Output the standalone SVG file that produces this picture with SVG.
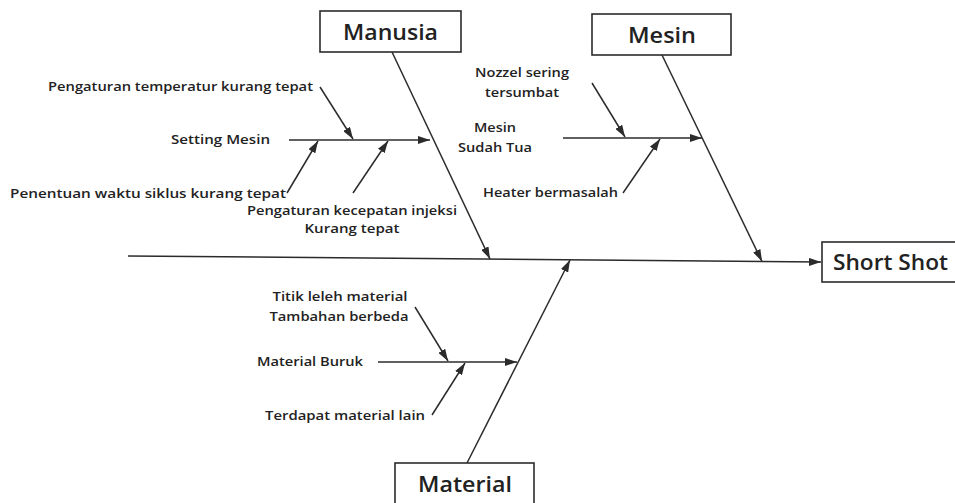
<svg xmlns="http://www.w3.org/2000/svg" width="955" height="503" viewBox="0 0 955 503">
<defs>
<marker id="ah" viewBox="0 0 12 8" refX="12" refY="4" markerWidth="12" markerHeight="8" markerUnits="userSpaceOnUse" orient="auto">
<path d="M0,0 L12,4 L0,8 Z" fill="#2b2b2b"/>
</marker>
<style>
.box{fill:#fff;stroke:#2b2b2b;stroke-width:1.6}
.ln{stroke:#2b2b2b;stroke-width:1.5;fill:none}
.ar{stroke:#2b2b2b;stroke-width:1.5;fill:none;marker-end:url(#ah)}
.big{font-family:"Open Sans","Liberation Sans",sans-serif;font-size:21px;font-weight:600;fill:#222}
.sm{font-family:"Open Sans","Liberation Sans",sans-serif;font-size:12.5px;font-weight:600;fill:#222}
</style>
</defs>
<rect width="955" height="503" fill="#fff"/>
<g id="connectors">
<line class="ar" x1="128" y1="256" x2="821" y2="262"/>
<line class="ar" x1="392" y1="52" x2="490" y2="259"/>
<line class="ar" x1="662" y1="55" x2="762" y2="261.5"/>
<line class="ar" x1="467" y1="463" x2="570" y2="260"/>
<line class="ar" x1="289" y1="140" x2="430" y2="140"/>
<line class="ar" x1="320" y1="87" x2="353" y2="139"/>
<line class="ar" x1="287" y1="193" x2="318" y2="141"/>
<line class="ar" x1="353" y1="193" x2="388" y2="141"/>
<line class="ar" x1="563" y1="138" x2="702" y2="138"/>
<line class="ar" x1="592" y1="83" x2="625" y2="137"/>
<line class="ar" x1="623" y1="193" x2="660" y2="139"/>
<line class="ar" x1="378" y1="362" x2="517" y2="362"/>
<line class="ar" x1="415" y1="307" x2="448" y2="361"/>
<line class="ar" x1="432" y1="415" x2="465" y2="363"/>
</g>
<g id="node-manusia">
<rect class="box" x="320" y="11" width="141" height="41"/>
<text class="big" x="390.5" y="40" text-anchor="middle" textLength="95" lengthAdjust="spacingAndGlyphs">Manusia</text>
</g>
<g id="node-mesin">
<rect class="box" x="592" y="14" width="139" height="41"/>
<text class="big" x="662" y="43" text-anchor="middle" textLength="68" lengthAdjust="spacingAndGlyphs">Mesin</text>
</g>
<g id="node-material">
<rect class="box" x="395" y="463" width="139" height="50"/>
<text class="big" x="465" y="492" text-anchor="middle" textLength="94" lengthAdjust="spacingAndGlyphs">Material</text>
</g>
<g id="node-shortshot">
<rect class="box" x="822" y="242" width="140" height="40"/>
<text class="big" x="833" y="270" textLength="115" lengthAdjust="spacingAndGlyphs">Short Shot</text>
</g>
<g id="cause-setting-mesin">
<text class="sm" x="171" y="144" textLength="99" lengthAdjust="spacingAndGlyphs">Setting Mesin</text>
</g>
<g id="cause-temperatur">
<text class="sm" x="48" y="91" textLength="265" lengthAdjust="spacingAndGlyphs">Pengaturan temperatur kurang tepat</text>
</g>
<g id="cause-waktu">
<text class="sm" x="10" y="198" textLength="276" lengthAdjust="spacingAndGlyphs">Penentuan waktu siklus kurang tepat</text>
</g>
<g id="cause-kecepatan">
<text class="sm" x="352" y="215" text-anchor="middle" textLength="210" lengthAdjust="spacingAndGlyphs">Pengaturan kecepatan injeksi</text>
<text class="sm" x="352" y="233" text-anchor="middle" textLength="95" lengthAdjust="spacingAndGlyphs">Kurang tepat</text>
</g>
<g id="cause-mesin-tua">
<text class="sm" x="495" y="132" text-anchor="middle" textLength="42" lengthAdjust="spacingAndGlyphs">Mesin</text>
<text class="sm" x="495" y="152" text-anchor="middle" textLength="74" lengthAdjust="spacingAndGlyphs">Sudah Tua</text>
</g>
<g id="cause-nozzel">
<text class="sm" x="522" y="77" text-anchor="middle" textLength="94" lengthAdjust="spacingAndGlyphs">Nozzel sering</text>
<text class="sm" x="522" y="97" text-anchor="middle" textLength="74" lengthAdjust="spacingAndGlyphs">tersumbat</text>
</g>
<g id="cause-heater">
<text class="sm" x="483" y="197" textLength="135" lengthAdjust="spacingAndGlyphs">Heater bermasalah</text>
</g>
<g id="cause-material-buruk">
<text class="sm" x="257" y="366" textLength="106" lengthAdjust="spacingAndGlyphs">Material Buruk</text>
</g>
<g id="cause-titik-leleh">
<text class="sm" x="340" y="301" text-anchor="middle" textLength="135" lengthAdjust="spacingAndGlyphs">Titik leleh material</text>
<text class="sm" x="339" y="321" text-anchor="middle" textLength="139" lengthAdjust="spacingAndGlyphs">Tambahan berbeda</text>
</g>
<g id="cause-terdapat">
<text class="sm" x="265" y="420" textLength="160" lengthAdjust="spacingAndGlyphs">Terdapat material lain</text>
</g>
</svg>
